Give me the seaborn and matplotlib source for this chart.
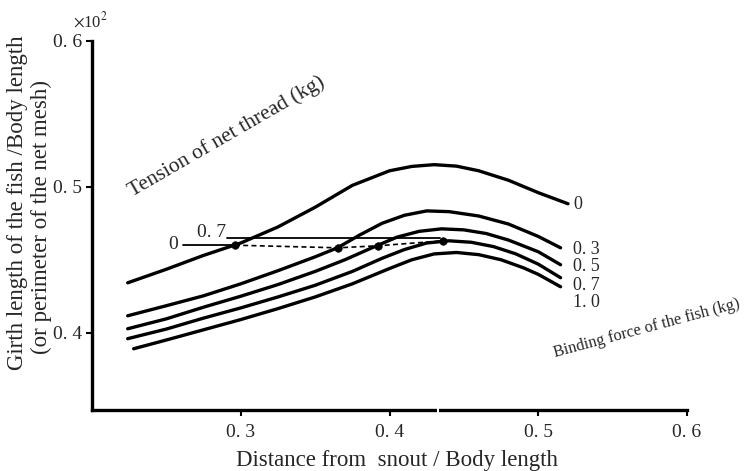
import numpy as np
import pandas as pd
import matplotlib
matplotlib.use("Agg")
import matplotlib.pyplot as plt
import seaborn as sns

# ---- data ----
forces = ["0", "0. 3", "0. 5", "0. 7", "1. 0"]
x_c0 = [0.224, 0.25, 0.275, 0.30, 0.325, 0.35, 0.375, 0.40, 0.415, 0.43, 0.445, 0.46, 0.48, 0.50, 0.52]
y_c0 = [0.4342, 0.4435, 0.4530, 0.4615, 0.4725, 0.4860, 0.5010, 0.5110, 0.5140, 0.5152, 0.5142, 0.5110, 0.5045, 0.4960, 0.4884]
x_c03 = [0.224, 0.25, 0.275, 0.30, 0.325, 0.35, 0.365, 0.38, 0.395, 0.41, 0.425, 0.44, 0.46, 0.48, 0.50, 0.515]
y_c03 = [0.4116, 0.4185, 0.4253, 0.4335, 0.4425, 0.4520, 0.4582, 0.4670, 0.4750, 0.4805, 0.4835, 0.4830, 0.4800, 0.4745, 0.4660, 0.4582]
x_c05 = [0.224, 0.25, 0.275, 0.30, 0.325, 0.35, 0.37, 0.39, 0.405, 0.42, 0.435, 0.45, 0.465, 0.48, 0.50, 0.515]
y_c05 = [0.4027, 0.4095, 0.4175, 0.4250, 0.4330, 0.4420, 0.4500, 0.4590, 0.4655, 0.4695, 0.4712, 0.4705, 0.4680, 0.4635, 0.4555, 0.4466]
x_c07 = [0.224, 0.25, 0.275, 0.30, 0.325, 0.35, 0.375, 0.395, 0.41, 0.425, 0.44, 0.455, 0.47, 0.485, 0.50, 0.515]
y_c07 = [0.3959, 0.4025, 0.4100, 0.4170, 0.4245, 0.4325, 0.4420, 0.4510, 0.4570, 0.4615, 0.4630, 0.4620, 0.4590, 0.4540, 0.4470, 0.4377]
x_c10 = [0.228, 0.25, 0.275, 0.30, 0.325, 0.35, 0.375, 0.40, 0.415, 0.43, 0.445, 0.46, 0.475, 0.49, 0.50, 0.515]
y_c10 = [0.3890, 0.3950, 0.4020, 0.4090, 0.4165, 0.4245, 0.4335, 0.4440, 0.4500, 0.4540, 0.4550, 0.4535, 0.4500, 0.4445, 0.4400, 0.4315]

# equilibrium points (dots) joined by dashed line
dot_x = [0.296, 0.3654, 0.3923, 0.436]
dot_y = [0.4600, 0.4582, 0.4596, 0.4630]

# tension of net thread levels (horizontal lines)
tension_labels = ["0", "0. 7"]
tension_y = [0.4600, 0.4651]
tension_x0 = [0.2612, 0.2908]
tension_x1 = [0.296, 0.434]

xticks = [0.3, 0.4, 0.5, 0.6]
xtick_labels = ["0. 3", "0. 4", "0. 5", "0. 6"]
yticks = [0.4, 0.5, 0.6]
ytick_labels = ["0. 4", "0. 5", "0. 6"]

# ---- build long-form table ----
frames = []
for name, xs, ys in zip(forces, [x_c0, x_c03, x_c05, x_c07, x_c10],
                        [y_c0, y_c03, y_c05, y_c07, y_c10]):
    frames.append(pd.DataFrame({"x": xs, "y": ys, "force": name}))
df = pd.concat(frames, ignore_index=True)

sns.set_theme(style="ticks")
plt.rcParams["font.family"] = ["Liberation Serif", "DejaVu Serif"]
plt.rcParams["mathtext.fontset"] = "stix"

fig = plt.figure(figsize=(7.51, 4.71), dpi=100)
ax = fig.add_axes([0.1225, 0.1295, 0.7923, 0.7835])

sns.lineplot(data=df, x="x", y="y", hue="force", palette=["black"] * 5,
             estimator=None, sort=False, legend=False, linewidth=2.4, ax=ax)

# horizontal tension lines
for lab, yv, x0, x1 in zip(tension_labels, tension_y, tension_x0, tension_x1):
    ax.plot([x0, x1], [yv, yv], color="black", lw=1.3)

# dashed connecting line + dots
sns.lineplot(x=dot_x, y=dot_y, color="black", lw=1.2, ax=ax,
             estimator=None, sort=False, linestyle=(0, (3, 2)))
sns.scatterplot(x=dot_x, y=dot_y, color="black", s=30, ax=ax, zorder=5, edgecolor="black")

ax.set_xlim(0.2, 0.6)
ax.set_ylim(0.347, 0.6)
ax.set_xticks(xticks)
ax.set_xticklabels(xtick_labels, fontsize=14)
ax.set_yticks(yticks)
ax.set_yticklabels(ytick_labels, fontsize=14)
ax.tick_params(axis="both", direction="out", length=4, width=1.5, color="black")
ax.tick_params(axis="x", pad=6)
ax.tick_params(axis="y", pad=3)
for s in ["top", "right"]:
    ax.spines[s].set_visible(False)
for s in ["left", "bottom"]:
    ax.spines[s].set_linewidth(2.4)
    ax.spines[s].set_color("black")
ax.set_xlabel("")
ax.set_ylabel("")

# small break in the bottom axis line (as in the scan)
ax.plot([0.4318, 0.4336], [0.347, 0.347], color="white", lw=4,
        solid_capstyle="butt", clip_on=False, zorder=10)

# curve labels at right
right_y = [0.4877, 0.4568, 0.4452, 0.4322, 0.4205]
for lab, yv in zip(forces, right_y):
    ax.text(0.5234, yv, lab, fontsize=13, ha="left", va="center")

# tension labels at left
ax.text(0.2578, 0.4603, "0", fontsize=14, ha="right", va="center")
ax.text(0.2807, 0.4685, "0. 7", fontsize=14, ha="center", va="center")

ax.text(0.2269, 0.4932, "Tension of net thread (kg)", fontsize=15.5,
        rotation=30, rotation_mode="anchor", ha="left", va="baseline")
ax.text(0.5110, 0.3830, "Binding force of the fish (kg)", fontsize=11.8,
        rotation=15, rotation_mode="anchor", ha="left", va="baseline")

fig.text(397 / 751, 1 - 466 / 471, "Distance from  snout / Body length",
         fontsize=16.5, ha="center", va="baseline")
fig.text(18 / 751, 1 - 203 / 471, "Girth length of the fish /Body length",
         fontsize=16.5, rotation=90, ha="center", va="center")
fig.text(41 / 751, 1 - 217 / 471, "(or perimeter of the net mesh)",
         fontsize=16.5, rotation=90, ha="center", va="center")
fig.text(91 / 751, 1 - 21 / 471, r"$\times$10$^{2}$", fontsize=12,
         ha="center", va="center")

fig.savefig("out.png", dpi=100)
